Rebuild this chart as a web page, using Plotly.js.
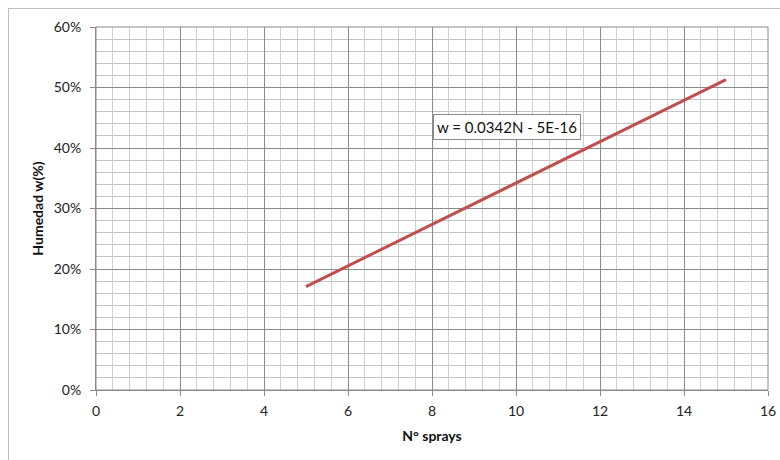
<!DOCTYPE html>
<html>
<head>
<meta charset="utf-8">
<script src="https://cdn.plot.ly/plotly-3.0.1.min.js"></script>
<style>
html,body{margin:0;padding:0;background:#fff;}
#wrap{position:relative;width:780px;height:460px;overflow:hidden;}
#chart{position:absolute;left:0;top:0;width:780px;height:460px;}
#frame{position:absolute;left:8px;top:8px;width:800px;height:500px;border:1px solid #bfbfbf;pointer-events:none;}
</style>
</head>
<body>
<div id="wrap"><div id="chart"></div><div id="frame"></div></div>
<script>
const sprays = [5, 10, 15];
const humedad = [0.171, 0.342, 0.513];
const xTitle = "N° sprays";
const yTitle = "Humedad w(%)";
const equation = "w = 0.0342N - 5E-16";
const eqPos = [9.79, 0.435];

const fontFam = "Lato, 'Open Sans', 'Liberation Sans', sans-serif";

const trace = {
  x: sprays, y: humedad, type: 'scatter', mode: 'lines',
  line: {color: '#c0504d', width: 3},
  hoverinfo: 'skip', showlegend: false
};

const layout = {
  width: 780, height: 460,
  margin: {l: 96, r: 12, t: 27, b: 70},
  paper_bgcolor: 'rgba(0,0,0,0)', plot_bgcolor: '#fff',
  font: {family: fontFam, size: 14, color: '#222'},
  xaxis: {
    range: [0, 16], dtick: 2, tick0: 0,
    showgrid: true, gridcolor: '#8a8a8a', gridwidth: 1,
    minor: {dtick: 0.4, showgrid: true, gridcolor: '#cfcfcf', gridwidth: 1},
    showline: true, linecolor: '#8a8a8a', linewidth: 1,
    ticks: 'outside', ticklen: 5, tickcolor: '#8a8a8a',
    ticklabelstandoff: 3,
    zeroline: false, mirror: false,
    tickfont: {size: 14, color: '#222'},
    title: {text: xTitle, font: {size: 14, color: '#111', weight: 'bold'}, standoff: 13}
  },
  yaxis: {
    range: [0, 0.6], dtick: 0.1, tick0: 0, tickformat: '.0%',
    showgrid: true, gridcolor: '#8a8a8a', gridwidth: 1,
    minor: {dtick: 0.02, showgrid: true, gridcolor: '#c4c4c4', gridwidth: 1},
    showline: true, linecolor: '#8a8a8a', linewidth: 1,
    ticks: 'outside', ticklen: 5, tickcolor: '#8a8a8a',
    ticklabelstandoff: 6,
    zeroline: false,
    tickfont: {size: 14, color: '#222'},
    title: {text: yTitle, font: {size: 14, color: '#111', weight: 'bold'}, standoff: 6}
  },
  shapes: [{type: 'rect', xref: 'paper', yref: 'paper', x0: 0, x1: 1, y0: 0, y1: 1,
    line: {color: '#8a8a8a', width: 1}, layer: 'above'}],
  annotations: [{
    x: eqPos[0], y: eqPos[1], xref: 'x', yref: 'y', text: equation, showarrow: false,
    font: {size: 15, color: '#111', family: fontFam},
    bgcolor: '#fff', bordercolor: '#8a8a8a', borderwidth: 1, borderpad: 3
  }]
};

Plotly.newPlot('chart', [trace], layout, {displayModeBar: false, staticPlot: true});
</script>
</body>
</html>
